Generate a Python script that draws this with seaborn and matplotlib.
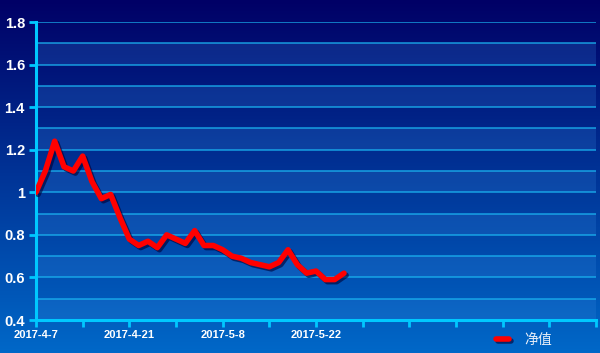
import numpy as np
import pandas as pd
import matplotlib
matplotlib.use("Agg")
import matplotlib.pyplot as plt
import matplotlib.patheffects as pe
from matplotlib.colors import LinearSegmentedColormap
import seaborn as sns

# ---- data ----
day_index = list(range(34))
nav_values = [1.00, 1.10, 1.24, 1.12, 1.10, 1.17, 1.05, 0.97, 0.99, 0.88,
              0.78, 0.75, 0.77, 0.74, 0.80, 0.78, 0.76, 0.82, 0.75, 0.75,
              0.73, 0.70, 0.69, 0.67, 0.66, 0.65, 0.67, 0.73, 0.66, 0.62,
              0.63, 0.59, 0.59, 0.62]
tick_positions = list(range(0, 61, 5))
tick_labels = ["2017-4-7", "", "2017-4-21", "", "2017-5-8", "", "2017-5-22",
               "", "", "", "", "", ""]
y_ticks = [0.4, 0.6, 0.8, 1.0, 1.2, 1.4, 1.6, 1.8]
y_tick_labels = ["0.4", "0.6", "0.8", "1", "1.2", "1.4", "1.6", "1.8"]
series_name = "净值"

df = pd.DataFrame({"day": day_index, "value": nav_values, "series": series_name})

sns.set_theme(style="white")
plt.rcParams["font.family"] = ["Liberation Sans", "Noto Sans CJK SC", "DejaVu Sans"]

fig = plt.figure(figsize=(6.0, 3.53), dpi=100)

# background gradient
bg = fig.add_axes([0, 0, 1, 1], zorder=-10)
cmap = LinearSegmentedColormap.from_list("bg", ["#000066", "#0068c8"])
grad = np.linspace(0, 1, 256).reshape(-1, 1)
bg.imshow(grad, aspect="auto", cmap=cmap, extent=[0, 1, 0, 1], origin="upper")
bg.set_axis_off()

ax = fig.add_axes([36 / 600, 1 - 320 / 353, 560 / 600, 298 / 353])
ax.patch.set_alpha(0)

# alternating bands
for lo in [0.4, 0.6, 0.8, 1.0, 1.2, 1.4, 1.6]:
    ax.axhspan(lo, lo + 0.1, color="#3a8ae0", alpha=0.22, lw=0, zorder=0)
# grid lines
for yv in np.arange(0.5, 1.81, 0.1):
    ax.axhline(yv, color="#1ab2f0", lw=1.1, alpha=0.85, zorder=1)

sns.lineplot(data=df, x="day", y="value", hue="series", palette=["#ff0000"],
             linewidth=4.0, ax=ax, zorder=5,
             path_effects=[pe.SimpleLineShadow(offset=(1.5, -1.5), shadow_color="#000033", alpha=0.6),
                           pe.Normal()])

ax.set_xlim(0, 60)
ax.set_ylim(0.4, 1.8)
ax.set_xticks(tick_positions)
ax.set_xticklabels(tick_labels)
ax.set_yticks(y_ticks)
ax.set_yticklabels(y_tick_labels)
ax.set_xlabel("")
ax.set_ylabel("")

for s in ["top", "right"]:
    ax.spines[s].set_visible(False)
for s in ["left", "bottom"]:
    ax.spines[s].set_color("#00c8ff")
    ax.spines[s].set_linewidth(2.2)

ax.tick_params(axis="y", colors="#00c8ff", length=5, width=2, direction="out",
               labelcolor="white", labelsize=10.5, pad=3, left=True)
ax.tick_params(axis="x", colors="#00c8ff", length=5, width=2, direction="out",
               labelcolor="white", labelsize=8, pad=2, bottom=True)
for lbl in ax.get_yticklabels() + ax.get_xticklabels():
    lbl.set_fontweight("bold")

leg = ax.legend(loc="center", bbox_to_anchor=(524 / 600, 1 - 340 / 353),
                bbox_transform=fig.transFigure, frameon=False,
                handlelength=0.9, handletextpad=1.1, fontsize=10)
for t in leg.get_texts():
    t.set_color("#e8eef8")
for h in leg.get_lines():
    h.set_linewidth(4)
    h.set_path_effects([pe.SimpleLineShadow(offset=(1.5, -1.5), shadow_color="#000033", alpha=0.6),
                        pe.Normal()])

fig.savefig("out.png", dpi=100)
